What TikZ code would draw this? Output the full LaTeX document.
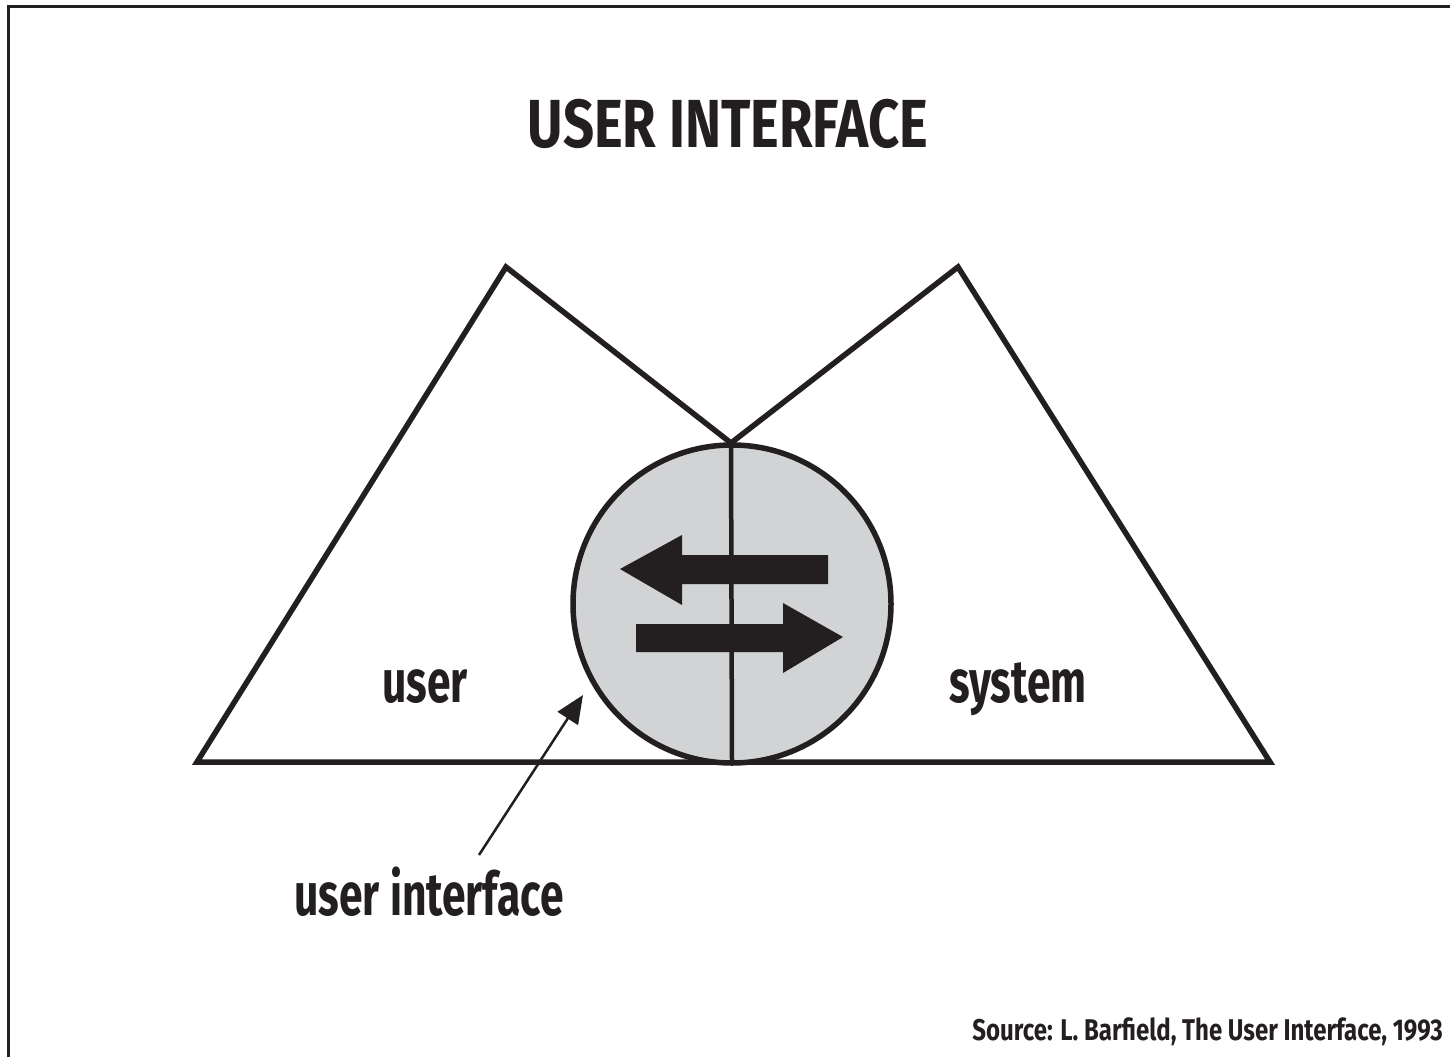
\documentclass[tikz,border=0pt]{standalone}
\usepackage{fontspec}
\setmainfont{Fira Sans}[FakeStretch=0.80]
\newfontfamily\narrowfont{Fira Sans}[FakeStretch=0.71]
\usetikzlibrary{arrows.meta}
\definecolor{ink}{HTML}{231F20}
\definecolor{disc}{HTML}{D1D3D4}
\tikzset{
  outline/.style={draw=ink, line width=5.5pt, line join=miter},
  lbl/.style={text=ink, font=\bfseries, inner sep=0pt, anchor=base},
  biglbl/.style={lbl, font=\narrowfont\bfseries\fontsize{60}{70}\selectfont},
  flow/.style={fill=ink, draw=none},
}
\begin{document}
\begin{tikzpicture}[x=1pt,y=-1pt]
\useasboundingbox (0,0) rectangle (1450,1057);
\fill[white] (0,0) rectangle (1450,1057);
% frame (top and left only)
\draw[draw=ink, line width=3pt] (8.5,1057) -- (8.5,6.5) -- (1450,6.5);
% title
\node[lbl, font=\bfseries\fontsize{68}{80}\selectfont] (title) at (728,147) {USER INTERFACE};
% triangles
\coordinate (bl) at (197,762);
\coordinate (la) at (506,267);
\coordinate (v) at (731,443);
\coordinate (ra) at (958,267);
\coordinate (br) at (1270,762);
\coordinate (bc) at (732,762);
\draw[outline] (bl) -- (la) -- (v) -- (ra) -- (br) -- cycle;
% disc
\node[circle, fill=disc, draw=ink, line width=5.5pt, minimum size=318pt, inner sep=0pt] (ui) at (732,604) {};
\draw[draw=ink, line width=4.5pt] (v) -- (bc);
% exchange arrows
\fill[flow] (828,555) -- (682,555) -- (682,535) -- (620,569) -- (682,605) -- (682,584) -- (828,584) -- cycle;
\fill[flow] (636,624) -- (783,624) -- (783,603) -- (843,637) -- (783,673) -- (783,652) -- (636,652) -- cycle;
% labels
\node[biglbl] (user) at (425,702) {user};
\node[biglbl] (system) at (1018,702) {system};
\node[biglbl] (uilabel) at (429,915) {user interface};
\coordinate (tail) at (479,855);
\coordinate (tip) at (583,695);
\draw[draw=ink, line width=2.5pt, -{Triangle[length=28pt,width=24pt]}] (tail) -- (tip);
\node[lbl, font=\bfseries\fontsize{30}{35}\selectfont, anchor=base east] (source) at (1443,1040) {Source: L. Barfield, The User Interface, 1993};
\end{tikzpicture}
\end{document}
